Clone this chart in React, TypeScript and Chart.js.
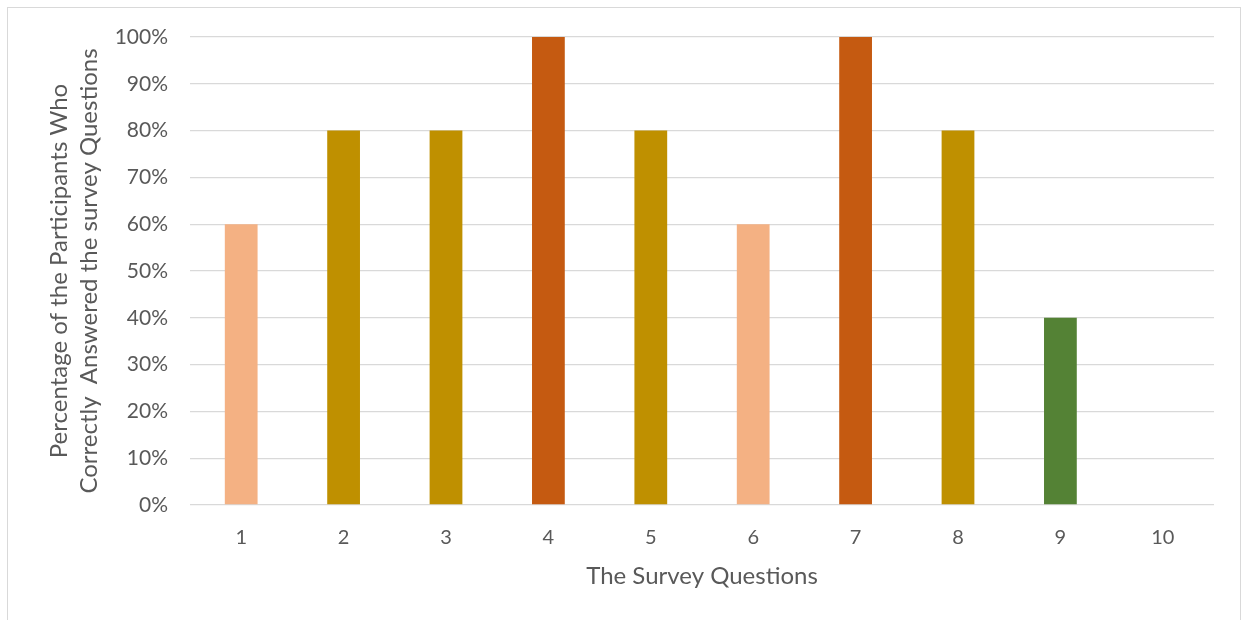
import React, { useEffect, useRef } from "react";
import { Chart, registerables } from "chart.js";

Chart.register(...registerables);

const categories = ["1", "2", "3", "4", "5", "6", "7", "8", "9", "10"];
const values = [60, 80, 80, 100, 80, 60, 100, 80, 40, 0];
const barColors = ["#F4B183", "#BF9000", "#BF9000", "#C55A11", "#BF9000", "#F4B183", "#C55A11", "#BF9000", "#548235", "#548235"];
const yTitle = ["Percentage of the Participants Who", "Correctly  Answered the survey Questions"];
const xTitle = "The Survey Questions";

export default function App() {
  const ref = useRef<HTMLCanvasElement | null>(null);
  useEffect(() => {
    document.body.style.margin = "0";
    const font = "Lato, sans-serif";
    const chart = new Chart(ref.current!, {
      type: "bar",
      data: {
        labels: categories,
        datasets: [
          {
            data: values,
            backgroundColor: barColors,
            barPercentage: 0.32,
            categoryPercentage: 1,
          },
        ],
      },
      options: {
        animation: false,
        responsive: false,
        maintainAspectRatio: false,
        layout: { padding: { left: 44, top: 37, right: 30, bottom: 26 } },
        plugins: { legend: { display: false }, tooltip: { enabled: false } },
        scales: {
          x: {
            grid: { display: false },
            border: { display: false },
            ticks: { color: "#595959", font: { family: font, size: 20 }, padding: 13 },
            title: {
              display: true,
              text: xTitle,
              color: "#595959",
              font: { family: font, size: 24 },
              padding: { top: 0, bottom: 3 },
            },
            afterFit: (s: any) => {
              s.height = 89;
            },
          },
          y: {
            min: 0,
            max: 100,
            grid: { color: "#D9D9D9", lineWidth: 1.3, drawTicks: false },
            border: { display: false },
            ticks: {
              stepSize: 10,
              color: "#595959",
              font: { family: font, size: 21 },
              padding: 22,
              callback: (v: any) => v + "%",
            },
            title: {
              display: true,
              text: yTitle,
              color: "#595959",
              font: { family: font, size: 24, lineHeight: 1.25 },
              padding: { top: 0, bottom: 4 },
            },
            afterFit: (s: any) => {
              s.width = 146;
            },
          },
        },
      },
    });
    return () => chart.destroy();
  }, []);
  return (
    <div style={{ position: "absolute", left: 0, top: 0, width: 1244, height: 620, overflow: "hidden", background: "#fff" }}>
      <div style={{ position: "absolute", left: 7, top: 7, width: 1234, height: 640, border: "1.5px solid #D9D9D9", boxSizing: "border-box" }} />
      <canvas ref={ref} width={1244} height={620} style={{ position: "absolute", left: 0, top: 0 }} />
    </div>
  );
}
